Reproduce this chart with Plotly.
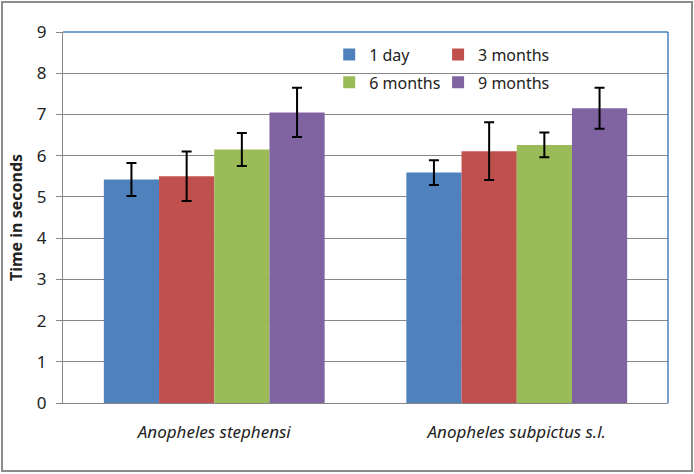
import plotly.graph_objects as go

categories = ["<i>Anopheles stephensi</i>", "<i>Anopheles subpictus s.l.</i>"]
series_names = ["1 day", "3 months", "6 months", "9 months"]
values = [
    [5.42, 5.59],
    [5.50, 6.11],
    [6.15, 6.26],
    [7.05, 7.15],
]
errors = [
    [0.40, 0.30],
    [0.60, 0.70],
    [0.40, 0.30],
    [0.60, 0.50],
]
colors = ["#4F81BD", "#C0504D", "#9BBB59", "#8064A2"]
legend_ids = ["legend", "legend2", "legend3", "legend4"]
legend_pos = [(0.44, 0.985), (0.62, 0.985), (0.44, 0.91), (0.62, 0.91)]
y_ticks = [0, 1, 2, 3, 4, 5, 6, 7, 8, 9]

fig = go.Figure()
for name, vals, errs, col, lg in zip(series_names, values, errors, colors, legend_ids):
    fig.add_trace(go.Bar(
        x=categories, y=vals, name=name, marker=dict(color=col, line=dict(width=0)),
        error_y=dict(type="data", array=errs, visible=True, color="black", thickness=2, width=5),
        legend=lg,
    ))

font_family = "Noto Sans, Liberation Sans, sans-serif"
legend_layout = {}
for lg, (lx, ly) in zip(legend_ids, legend_pos):
    legend_layout[lg] = dict(orientation="h", x=lx, y=ly, xanchor="left", yanchor="top",
                             bgcolor="rgba(0,0,0,0)", font=dict(size=16))

fig.update_layout(
    width=694, height=474,
    margin=dict(l=63, r=26, t=32, b=71, autoexpand=False),
    paper_bgcolor="white", plot_bgcolor="white",
    barmode="group", bargap=0.27, bargroupgap=0,
    font=dict(family=font_family, size=15, color="#222222"),
    showlegend=True,
    **legend_layout,
    xaxis=dict(showline=True, linecolor="#868686", linewidth=1, ticks="", showgrid=False,
               tickfont=dict(size=17), automargin=False, ticklabelstandoff=14),
    yaxis=dict(range=[0, 9], tickvals=y_ticks, showgrid=True, gridcolor="#868686", gridwidth=1,
               showline=True, linecolor="#868686", linewidth=1, ticks="outside", ticklen=6,
               tickcolor="#868686", tickfont=dict(size=17), zeroline=False, automargin=False,
               ticklabelstandoff=6,
               title=dict(text="<b>Time in seconds</b>", font=dict(size=16), standoff=10)),
    shapes=[
        dict(type="line", xref="paper", yref="paper", x0=0, x1=1, y0=1, y1=1,
             line=dict(color="#4A7EBB", width=1.5)),
        dict(type="line", xref="paper", yref="paper", x0=1, x1=1, y0=0, y1=1,
             line=dict(color="#4A7EBB", width=1.5)),
        dict(type="rect", xref="paper", yref="paper", x0=-0.1008, x1=1.0397, y0=-0.1833, y1=1.0809,
             line=dict(color="#8C8C8C", width=2)),
    ],
)

fig.write_html("out.html", config={"displayModeBar": False},
               post_script="document.body.style.margin='0';document.body.style.overflow='hidden';")
